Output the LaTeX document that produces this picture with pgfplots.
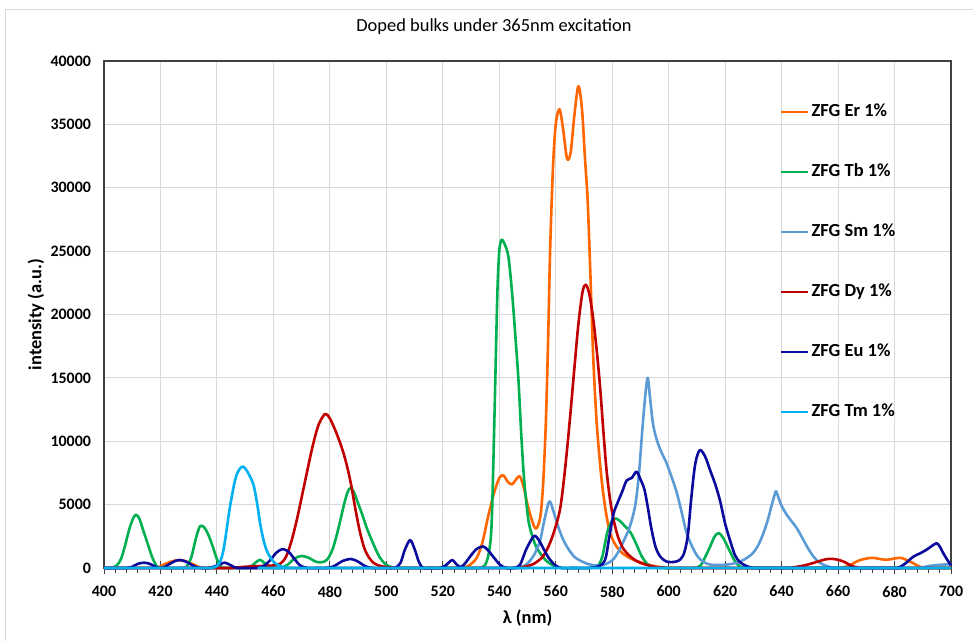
\documentclass[border=0pt]{standalone}
\usepackage{pgfplots}
\pgfplotsset{compat=1.18}
\usepackage{fontspec}
\setmainfont{Carlito}
\definecolor{cEr}{HTML}{FF6600}
\definecolor{cTb}{HTML}{00B050}
\definecolor{cSm}{HTML}{5B9BD5}
\definecolor{cDy}{HTML}{C00000}
\definecolor{cEu}{HTML}{0A0A9C}
\definecolor{cTm}{HTML}{00B0F0}
\definecolor{cGrid}{HTML}{D9D9D9}
\definecolor{cAxis}{HTML}{404040}
\begin{document}
\begin{tikzpicture}[x=1bp,y=1bp]
\draw[cGrid, line width=1bp] (5,-20) -- (5,631) -- (1000,631);
\begin{axis}[
  at={(104bp,73bp)}, anchor=south west,
  width=847bp, height=507bp, scale only axis,
  xmin=400, xmax=700, ymin=0, ymax=40000,
  xtick distance=20, ytick distance=5000, minor x tick num=4,
  xtick pos=lower, ytick pos=left,
  grid=major, major grid style={draw=cGrid, line width=1bp},
  axis line style={draw=cAxis, line width=1.2bp},
  tick align=center, major tick length=13bp, minor tick length=5bp,
  major x tick style={draw=cAxis, line width=0.9bp},
  minor x tick style={draw=cAxis, line width=0.9bp, yshift=-2.5bp},
  ytick style={draw=none},
  scaled y ticks=false,
  /pgf/number format/assume math mode=true,
  /pgf/number format/set thousands separator={},
  ticklabel style={font=\fontsize{16}{19}\selectfont\bfseries},
  xticklabel style={yshift=-8bp},
  yticklabel style={xshift=-3bp},
  title={Doped bulks under 365nm excitation},
  title style={at={(axis description cs:0.4604,1.0552)}, anchor=center, font=\fontsize{18.5}{22}\selectfont},
  xlabel={λ (nm)},
  xlabel style={at={(axis description cs:0.5,-0.0986)}, anchor=center, font=\fontsize{18.5}{22}\selectfont\bfseries},
  ylabel={intensity (a.u.)},
  ylabel style={at={(axis description cs:-0.0803,0.5)}, anchor=center, font=\fontsize{18.5}{22}\selectfont\bfseries},
  clip=false,
  legend style={at={(axis description cs:0.7981,0.915)}, anchor=north west, draw=none, fill=none,
    inner sep=0pt, outer sep=0pt, row sep=44bp,
    font=\fontsize{18.5}{22}\selectfont\bfseries,
    nodes={inner sep=0pt, text height=12bp, text depth=4bp},
    /tikz/every odd column/.append style={column sep=2bp}},
  legend cell align=left,
  legend image code/.code={\draw[#1] (0bp,0bp) -- (27bp,0bp);},
  every axis plot/.append style={line width=2.6bp, smooth, tension=0.5, line join=round},
]
\addplot[cEr] coordinates {(400,0)(413,0)(416,0)(419,50)(422,350)(425,580)(428,600)(431,350)(434,50)(437,0)(440,0)(522,0)(526,0)(529,150)(532,800)(534,2000)(536,4000)(538,5800)(540,7100)(541.5,7300)(543,6800)(544.5,6600)(546,7000)(547.2,7250)(548.5,6500)(550,5000)(551.5,3800)(553,3100)(554.5,4000)(555.5,6500)(556.5,11500)(557.3,18000)(558,25000)(559,31500)(560,35000)(561.3,36200)(562.5,34800)(564,32300)(565.3,32800)(566.5,35500)(568,38000)(569.3,36200)(570.3,32500)(571.3,29000)(572.3,23000)(573.3,16500)(574.5,11500)(576,7500)(577.5,4800)(579.2,2800)(581.5,1700)(584,1100)(587,700)(590,450)(593,250)(596,100)(600,0)(603,0)(658,0)(661,0)(664,200)(667.5,600)(672,800)(677,650)(682,800)(685.5,500)(689,100)(692,0)(700,0)};
\addlegendentry{ZFG Er 1\%}
\addplot[cTb] coordinates {(400,0)(403,0)(404.5,200)(406,700)(407.5,1800)(409,3100)(410.3,3900)(411.3,4200)(412.5,3900)(414,2900)(415.5,1900)(417,900)(418.5,200)(420,0)(428,0)(429.5,200)(431,900)(432.5,2300)(434,3300)(435.5,3200)(437,2600)(438.5,1700)(440,700)(441.5,100)(443,0)(450,0)(452,100)(453.5,400)(455.3,650)(457,350)(459,80)(461,0)(463,50)(465,250)(467.5,750)(470,950)(472.5,800)(475,500)(477,450)(479,650)(481,1500)(483,3100)(485,5000)(486.3,6000)(487.3,6300)(488.5,6000)(490,5100)(491.5,4200)(493,3200)(495,2100)(497.5,900)(500,250)(503,0)(506,0)(530,0)(533,0)(535,250)(536.3,1200)(537.3,3500)(538.3,12000)(539.3,21500)(540,25000)(540.8,25900)(541.8,25600)(543.2,24600)(544.5,21800)(545.8,18000)(546.8,14800)(547.8,10500)(548.8,7000)(550.3,3800)(552,2300)(553.5,1500)(556.5,600)(560,100)(563,0)(566,0)(572,0)(575,200)(576.5,900)(577.5,2000)(578.5,3000)(580.5,3900)(582.5,3750)(584.5,3300)(586.5,2800)(588.5,1900)(590.5,900)(592.5,300)(594.5,50)(597,0)(600,0)(606,0)(609,0)(611.3,200)(613,900)(614.7,1700)(616.3,2500)(617.8,2750)(619.5,2300)(621.5,1400)(623.3,600)(625,150)(627,0)(630,0)(700,0)};
\addlegendentry{ZFG Tb 1\%}
\addplot[cSm] coordinates {(400,0)(540,0)(545,0)(548,100)(550,350)(552.5,1100)(554.5,2200)(556,3800)(557.7,5250)(559,4600)(560.5,3500)(562.5,2300)(564.5,1500)(566.5,900)(568.5,600)(571,350)(574,200)(577,250)(580,600)(582,1200)(584,2100)(586.3,3300)(588.2,5000)(589.5,7500)(590.7,11000)(591.8,13800)(592.6,15000)(593.5,13200)(594.5,11300)(595.8,10100)(597.3,9200)(599.2,8300)(601,7200)(602.8,6000)(604.5,4500)(606.3,2800)(608.3,1700)(610.3,900)(612.5,450)(615,260)(618,240)(621,280)(624,400)(627,700)(629.5,1100)(631.5,1700)(633.3,2600)(635,3700)(636.3,4800)(637.3,5600)(638,6050)(638.8,5600)(640,4900)(641.8,4200)(643.5,3700)(645.5,3100)(647.5,2300)(649.5,1500)(651.3,900)(653.3,450)(656,150)(659,0)(662,0)(686,0)(689,0)(692,150)(696,250)(700,300)};
\addlegendentry{ZFG Sm 1\%}
\addplot[cDy] coordinates {(400,0)(440,0)(445,0)(450,100)(455,150)(460,200)(462.5,350)(464.5,900)(466.5,2200)(468.5,4000)(470.6,6200)(472.5,8200)(474.1,9800)(476,11300)(478.3,12150)(480,11800)(482.4,10600)(484.5,9300)(486,8100)(487.5,6600)(489,4700)(490.5,3000)(492,1700)(493.5,950)(495.5,400)(498,150)(502,30)(505,0)(510,0)(543,0)(546,0)(549,100)(552,300)(555,800)(557,1500)(559,2600)(561.5,4600)(563.3,7800)(565,11700)(566.5,15500)(568,19200)(569.5,21800)(570.7,22350)(572,21500)(573.3,19600)(574.5,17200)(575.7,14300)(576.8,11000)(578,7700)(579.3,5300)(580.5,3800)(582,2500)(584,1500)(587,800)(590,400)(595,100)(600,0)(603,0)(640,0)(644,50)(648,200)(652,450)(655.5,680)(658,720)(660.5,620)(662.5,450)(665,150)(668,0)(671,0)(700,0)};
\addlegendentry{ZFG Dy 1\%}
\addplot[cEu] coordinates {(400,0)(405,0)(408,0)(410,100)(412,330)(414.3,420)(416.5,300)(418.5,60)(420,0)(421.5,80)(423.5,350)(425.5,580)(427,630)(429,500)(431,250)(433,50)(435,0)(437.5,0)(440,200)(442.8,420)(445,200)(447,0)(450,0)(454,0)(456.5,150)(459,650)(461,1200)(463.3,1500)(465.5,1250)(467.5,700)(469.5,200)(472,0)(476,0)(479,0)(481.5,150)(484.5,550)(487.5,710)(490,500)(492.5,150)(495,0)(500,0)(503,0)(505,400)(506.5,1400)(508.4,2200)(510,1500)(511.5,500)(513,0)(516,0)(519,0)(521,200)(523.3,620)(525,250)(526.5,80)(528,400)(530,1000)(532,1500)(534.3,1700)(536,1400)(538,850)(540.3,240)(542.5,0)(545,0)(547.3,240)(549.7,1550)(552.3,2520)(554,2200)(555.6,1550)(557.5,800)(559.7,240)(562,0)(566,0)(571,0)(574,50)(576.5,300)(577.8,900)(579,2500)(580.5,4300)(582,5200)(583.5,6000)(585.1,6900)(586.9,7100)(588.6,7600)(590,7000)(591.4,6200)(592.6,4800)(593.8,3200)(595.3,1700)(597,900)(599.3,500)(602,480)(604,650)(605.5,1200)(606.8,2600)(608,5500)(609.4,8200)(611,9300)(612.9,8800)(614.7,7700)(616.5,6600)(618.2,5300)(620,3500)(621.7,2200)(623.5,1000)(625.3,450)(627.6,150)(630,0)(633,0)(678,0)(681,0)(683.5,300)(686.7,900)(689,1150)(691.4,1450)(693.3,1750)(694.9,1950)(696,1700)(697.3,1150)(698.8,600)(700,200)};
\addlegendentry{ZFG Eu 1\%}
\addplot[cTm] coordinates {(400,0)(435,0)(438,0)(440.5,250)(442.3,1400)(444.6,4800)(446.5,7000)(448,7800)(449.3,8000)(450.8,7600)(452.9,6600)(454.3,5000)(455.3,3500)(456.5,2200)(457.6,1400)(459,800)(460.5,400)(463,100)(466,0)(470,0)(700,0)};
\addlegendentry{ZFG Tm 1\%}
\end{axis}
\pgfresetboundingbox
\path[use as bounding box] (0,0) rectangle (973,641);
\end{tikzpicture}
\end{document}
